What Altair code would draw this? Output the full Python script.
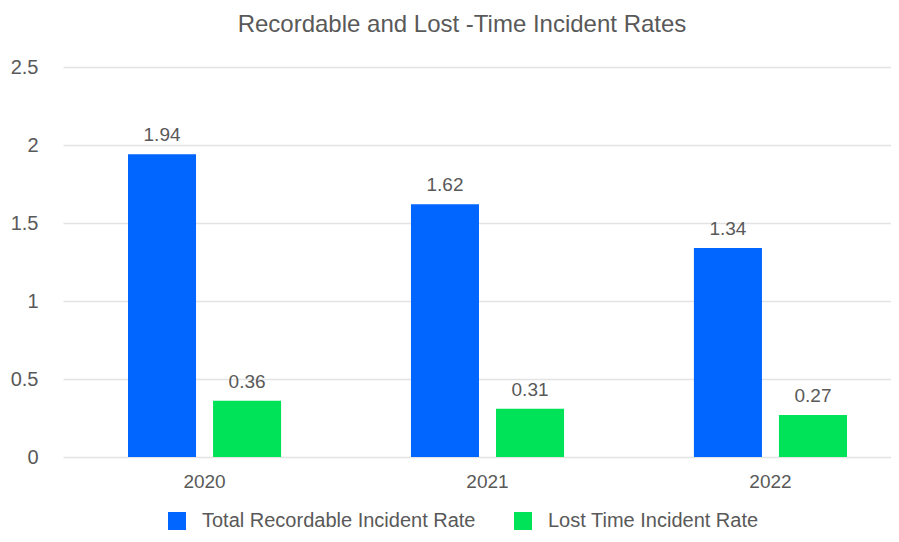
import altair as alt
import pandas as pd

years = ["2020", "2021", "2022"]
series = ["Total Recordable Incident Rate", "Lost Time Incident Rate"]
trir = [1.94, 1.62, 1.34]
ltir = [0.36, 0.31, 0.27]
colors = ["#0066ff", "#00e257"]

rows = []
for i, y in enumerate(years):
    rows.append({"year": y, "series": series[0], "value": trir[i]})
    rows.append({"year": y, "series": series[1], "value": ltir[i]})
df = pd.DataFrame(rows)

FONT = "Liberation Sans"
GRAY = "#595959"

x_enc = alt.X("year:N", title=None, sort=years,
              scale=alt.Scale(range=[0, 849], paddingInner=0.459, paddingOuter=0.2297),
              axis=alt.Axis(labelAngle=0, labelFontSize=19, labelColor=GRAY, labelFont=FONT,
                            labelPadding=15, ticks=False, domain=False, grid=False))
xo_enc = alt.XOffset("series:N", sort=series,
                     scale=alt.Scale(domain=series, paddingInner=0.2, paddingOuter=0))
y_enc = alt.Y("value:Q", title=None,
              scale=alt.Scale(domain=[0, 2.5], nice=False),
              axis=alt.Axis(values=[0, 0.5, 1, 1.5, 2, 2.5], format="~g", labelFontSize=20,
                            labelColor=GRAY, labelFont=FONT, labelPadding=25, ticks=False,
                            domain=False, grid=True, gridColor="#e3e3e3", gridWidth=1.5))

bars = alt.Chart(df).mark_bar().encode(
    x=x_enc, xOffset=xo_enc, y=y_enc,
    color=alt.Color("series:N", sort=series,
                    scale=alt.Scale(domain=series, range=colors),
                    legend=alt.Legend(title=None, orient="none", legendX=104, legendY=444,
                                      direction="horizontal", symbolType="square",
                                      symbolSize=324, symbolStrokeWidth=0, labelFontSize=20,
                                      labelColor=GRAY, labelFont=FONT, columnPadding=37,
                                      labelOffset=15, labelLimit=400))
)

labels = alt.Chart(df).mark_text(dy=-13, baseline="alphabetic", fontSize=19, color=GRAY, font=FONT).encode(
    x=alt.X("year:N", sort=years), xOffset=alt.XOffset("series:N", sort=series),
    y="value:Q", text=alt.Text("value:Q", format=".2f")
)

chart = (bars + labels).properties(
    width=828, height=390,
    autosize=alt.AutoSizeParams(type="none"),
    padding={"left": 55, "top": 59, "right": 0, "bottom": 77},
    title=alt.TitleParams("Recordable and Lost -Time Incident Rates", fontSize=24, font=FONT,
                          fontWeight="normal", color=GRAY, anchor="middle", dx=-15, offset=20),
).configure_view(stroke=None)

chart.save("out.html", embed_options={"renderer": "svg", "actions": False})
